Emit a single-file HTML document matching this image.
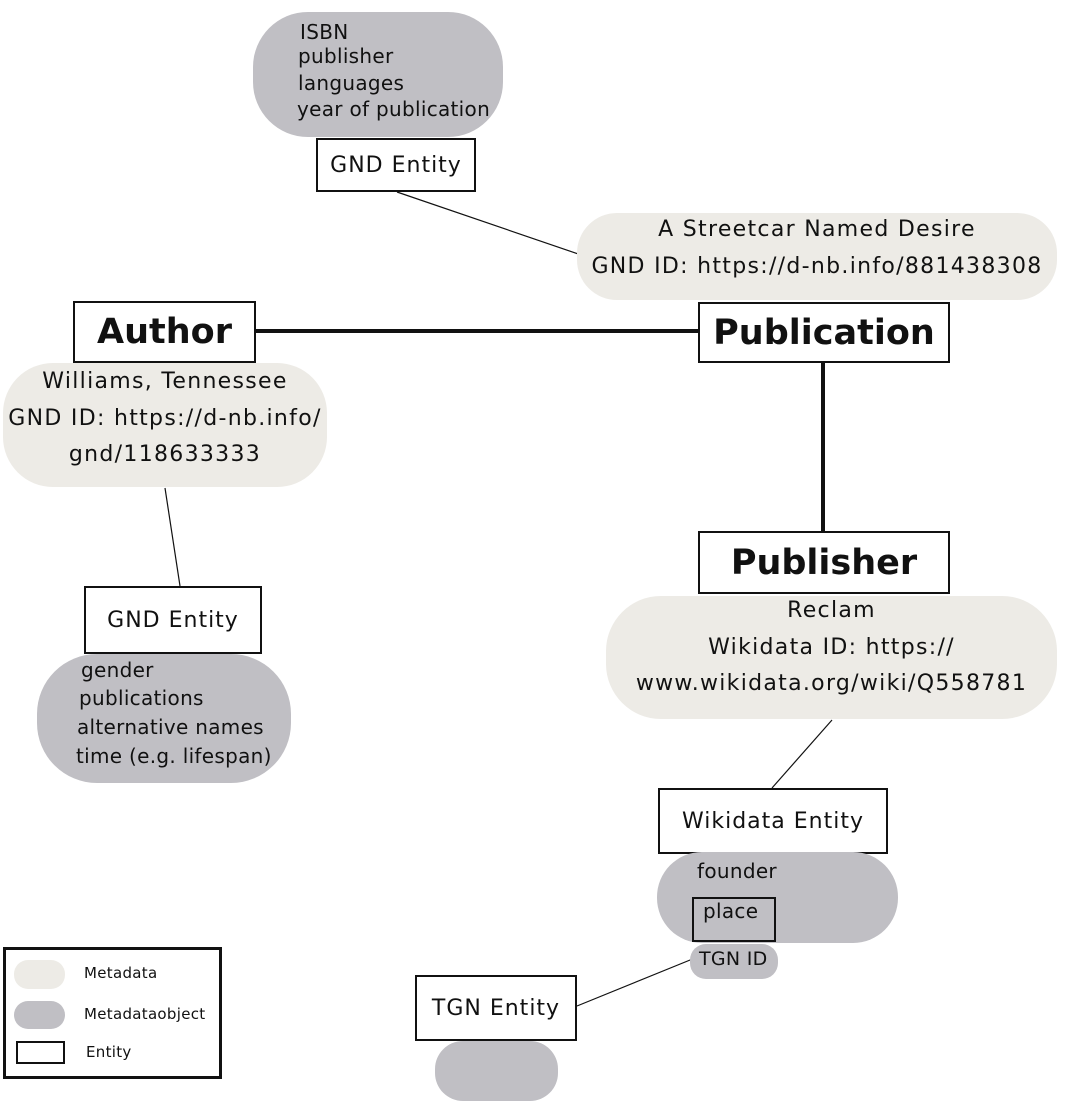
<!DOCTYPE html>
<html><head><meta charset="utf-8"><style>
body{margin:0;width:1080px;height:1080px;background:#fff;position:relative;overflow:hidden;font-family:"DejaVu Sans","Liberation Sans",sans-serif;color:#111}
.a{position:absolute}
.lt{background:#edebe6}
.dk{background:#c0bfc4}
.box{position:absolute;background:#fff;border:2px solid #111;box-sizing:border-box;display:flex;align-items:center;justify-content:center}
.t{position:absolute;white-space:nowrap;font-size:20px;line-height:20px;letter-spacing:.3px}
.c{text-align:center}
.m{font-size:22px;line-height:22px;letter-spacing:1.3px}
.big{font-weight:bold;font-size:35px}
.ent{font-size:22px;letter-spacing:1px}
</style></head><body>
<svg class="a" style="left:0;top:0" width="1080" height="1080">
<line x1="397" y1="192" x2="590" y2="258" stroke="#111" stroke-width="1.2"/>
<line x1="255" y1="331" x2="698" y2="331" stroke="#111" stroke-width="4"/>
<line x1="823" y1="362" x2="823" y2="531" stroke="#111" stroke-width="4"/>
<line x1="165" y1="488" x2="180" y2="586" stroke="#111" stroke-width="1.2"/>
<line x1="832" y1="720" x2="772" y2="788" stroke="#111" stroke-width="1.2"/>
<line x1="695" y1="958" x2="577" y2="1006" stroke="#111" stroke-width="1.2"/>
</svg>
<div class="a dk" style="left:253px;top:12px;width:250px;height:125px;border-radius:55px"></div>
<div class="t" style="left:300px;top:22px">ISBN</div>
<div class="t" style="left:298px;top:46px">publisher</div>
<div class="t" style="left:298px;top:73px">languages</div>
<div class="t" style="left:297px;top:99px">year of publication</div>
<div class="box ent" style="left:316px;top:138px;width:160px;height:54px">GND Entity</div>

<div class="a lt" style="left:577px;top:213px;width:480px;height:87px;border-radius:40px"></div>
<div class="t c m" style="left:577px;width:480px;top:219px">A Streetcar Named Desire</div>
<div class="t c m" style="left:577px;width:480px;top:256px">GND ID: https://d-nb.info/881438308</div>

<div class="box big" style="left:73px;top:301px;width:183px;height:62px">Author</div>
<div class="box big" style="left:698px;top:302px;width:252px;height:61px">Publication</div>

<div class="a lt" style="left:3px;top:363px;width:324px;height:124px;border-radius:50px"></div>
<div class="t c m" style="left:3px;width:324px;top:371px">Williams, Tennessee</div>
<div class="t c m" style="left:3px;width:324px;top:408px">GND ID: https://d-nb.info/</div>
<div class="t c m" style="left:3px;width:324px;top:444px">gnd/118633333</div>

<div class="box ent" style="left:84px;top:586px;width:178px;height:68px">GND Entity</div>
<div class="a dk" style="left:37px;top:654px;width:254px;height:129px;border-radius:60px"></div>
<div class="t" style="left:81px;top:660px">gender</div>
<div class="t" style="left:79px;top:688px">publications</div>
<div class="t" style="left:77px;top:717px">alternative names</div>
<div class="t" style="left:76px;top:746px">time (e.g. lifespan)</div>

<div class="box big" style="left:698px;top:531px;width:252px;height:63px">Publisher</div>
<div class="a lt" style="left:606px;top:596px;width:451px;height:123px;border-radius:55px"></div>
<div class="t c m" style="left:606px;width:451px;top:600px">Reclam</div>
<div class="t c m" style="left:606px;width:451px;top:637px">Wikidata ID: https://</div>
<div class="t c m" style="left:606px;width:451px;top:673px">www.wikidata.org/wiki/Q558781</div>

<div class="box ent" style="left:658px;top:788px;width:230px;height:66px">Wikidata Entity</div>
<div class="a dk" style="left:657px;top:852px;width:241px;height:91px;border-radius:45px"></div>
<div class="t" style="left:697px;top:861px">founder</div>
<div class="a" style="left:692px;top:897px;width:84px;height:45px;border:2px solid #111;box-sizing:border-box"></div>
<div class="t" style="left:703px;top:901px">place</div>
<div class="a dk" style="left:690px;top:944px;width:88px;height:35px;border-radius:16px"></div>
<div class="t" style="left:699px;top:949px;font-size:19px">TGN ID</div>

<div class="box ent" style="left:415px;top:975px;width:162px;height:66px">TGN Entity</div>
<div class="a dk" style="left:435px;top:1041px;width:123px;height:60px;border-radius:28px"></div>

<div class="a" style="left:3px;top:947px;width:219px;height:132px;border:3px solid #111;box-sizing:border-box;background:#fff"></div>
<div class="a lt" style="left:14px;top:960px;width:51px;height:29px;border-radius:14px"></div>
<div class="a dk" style="left:14px;top:1001px;width:51px;height:28px;border-radius:14px"></div>
<div class="a" style="left:16px;top:1041px;width:49px;height:23px;border:2px solid #111;box-sizing:border-box"></div>
<div class="t" style="left:84px;top:966px;font-size:15px;line-height:15px">Metadata</div>
<div class="t" style="left:84px;top:1007px;font-size:15px;line-height:15px">Metadataobject</div>
<div class="t" style="left:86px;top:1045px;font-size:15px;line-height:15px">Entity</div>
</body></html>
